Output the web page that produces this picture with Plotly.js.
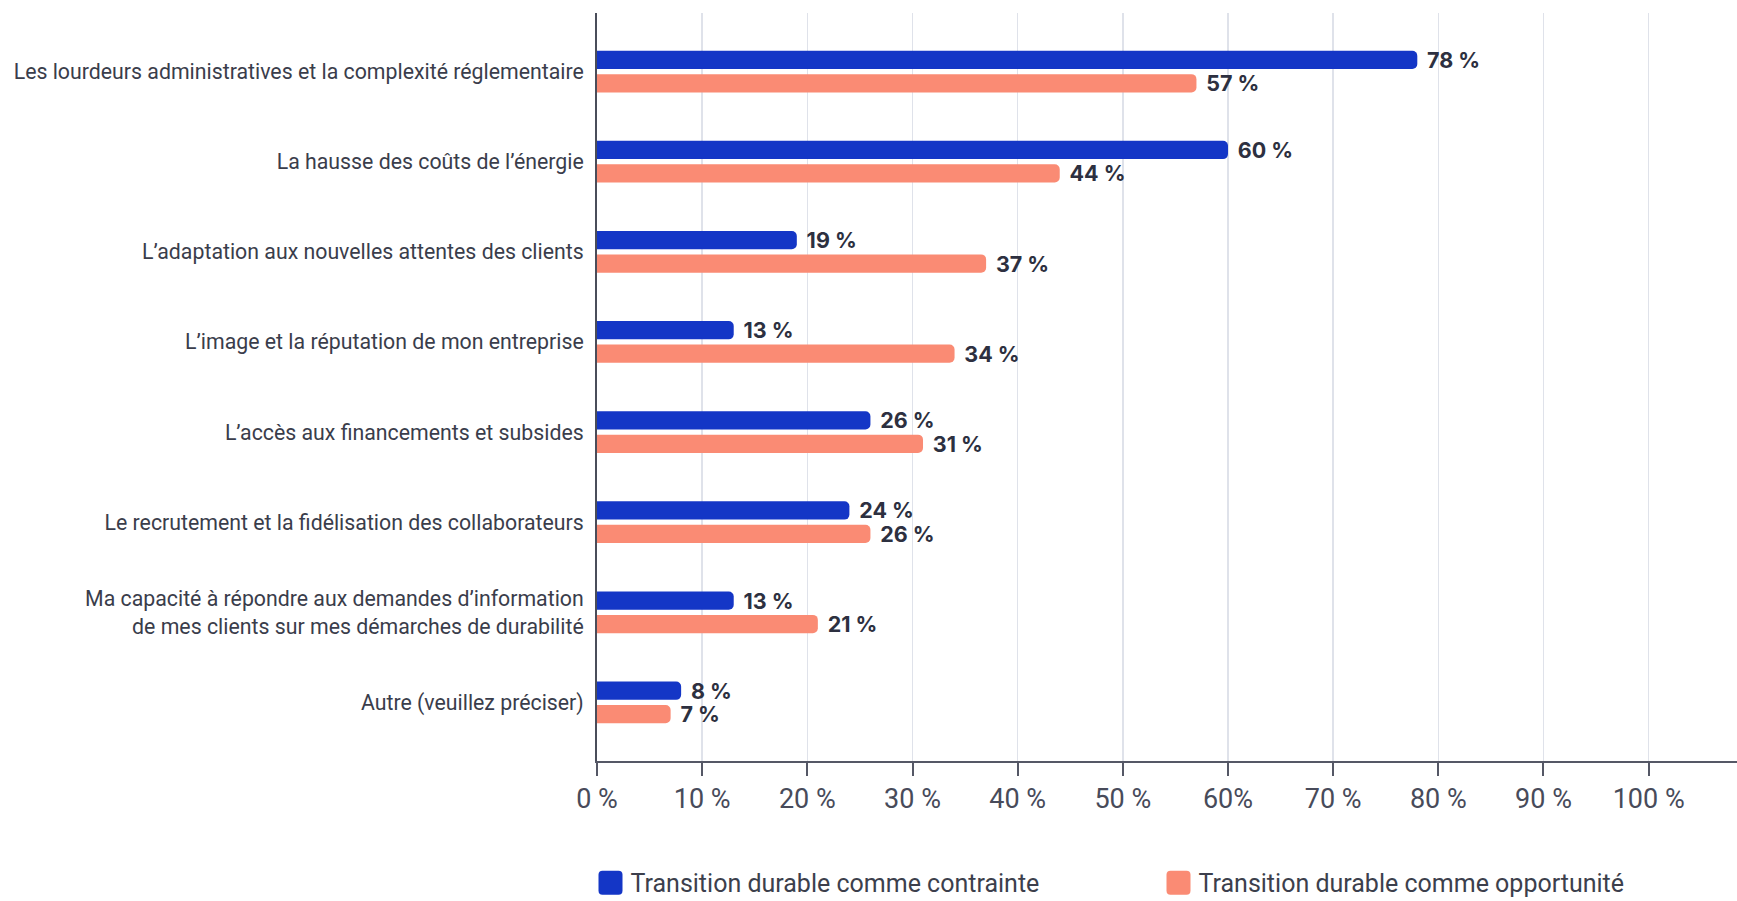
<!DOCTYPE html>
<html>
<head>
<meta charset="utf-8">
<script src="https://cdn.plot.ly/plotly-3.0.1.min.js"></script>
<style>html,body{margin:0;padding:0;background:#fff;overflow:hidden;}#chart{width:1737px;height:901px;}</style>
</head>
<body>
<div id="chart"></div>
<script>
const categories = [
  "Les lourdeurs administratives et la complexité réglementaire",
  "La hausse des coûts de l’énergie",
  "L’adaptation aux nouvelles attentes des clients",
  "L’image et la réputation de mon entreprise",
  "L’accès aux financements et subsides",
  "Le recrutement et la fidélisation des collaborateurs",
  "Ma capacité à répondre aux demandes d’information<br>de mes clients sur mes démarches de durabilité",
  "Autre (veuillez préciser)"
];
const contrainte = [78, 60, 19, 13, 26, 24, 13, 8];
const opportunite = [57, 44, 37, 34, 31, 26, 21, 7];
const seriesNames = ["Transition durable comme contrainte", "Transition durable comme opportunité"];
const tickVals = [0, 10, 20, 30, 40, 50, 60, 70, 80, 90, 100];
const tickText = ["0 %", "10 %", "20 %", "30 %", "40 %", "50 %", "60%", "70 %", "80 %", "90 %", "100 %"];

const blue = "#1436C6";
const salmon = "#FA8B74";
const labelFont = {family: "Inter, 'DejaVu Sans', sans-serif", size: 21.5, color: "#2d3040", weight: 700};

function barTrace(vals, name, color) {
  return {
    type: "bar",
    orientation: "h",
    x: vals,
    y: categories,
    name: name,
    marker: {color: color, line: {width: 0}},
    text: vals.map(v => "\u00a0\u200a" + v + "\u00a0%"),
    textposition: "outside",
    textfont: labelFont,
    constraintext: "none",
    cliponaxis: false,
    hoverinfo: "skip"
  };
}

const data = [
  barTrace(contrainte, seriesNames[0], blue),
  barTrace(opportunite, seriesNames[1], salmon)
];

const layout = {
  width: 1737,
  height: 901,
  margin: {l: 597, r: 0, t: 13, b: 140, autoexpand: false},
  paper_bgcolor: "#ffffff",
  plot_bgcolor: "#ffffff",
  barmode: "group",
  bargap: 0.48,
  bargroupgap: 0.22,
  barcornerradius: 5,
  font: {family: "Roboto, sans-serif", color: "#3c3f4c"},
  xaxis: {
    range: [0, 108.4],
    tickvals: tickVals,
    ticktext: tickText,
    tickfont: {family: "Roboto, sans-serif", size: 27, color: "#484b5a"},
    ticks: "outside",
    ticklen: 13,
    tickwidth: 2,
    tickcolor: "#555866",
    ticklabelstandoff: 0,
    showgrid: true,
    gridcolor: "#dfe2ea",
    gridwidth: 1.5,
    showline: true,
    linecolor: "#555866",
    linewidth: 2,
    zeroline: false,
    fixedrange: true
  },
  yaxis: {
    type: "category",
    range: [7.65, -0.65],
    tickfont: {family: "Roboto, sans-serif", size: 21.3, color: "#3a3d4b"},
    ticks: "",
    ticklabelstandoff: 7,
    showline: true,
    linecolor: "#4a4d5a",
    linewidth: 2,
    showgrid: false,
    zeroline: false,
    fixedrange: true
  },
  showlegend: true,
  legend: {
    orientation: "h",
    x: -0.0057,
    xanchor: "left",
    y: -0.163,
    yanchor: "middle",
    entrywidth: 523,
    entrywidthmode: "pixels",
    font: {family: "Roboto, sans-serif", size: 25, color: "#3c3f4c"},
    traceorder: "normal"
  }
};

Plotly.newPlot("chart", data, layout, {displayModeBar: false, staticPlot: true}).then(function (gd) {
  // enlarge the legend swatches to match the reference's bigger rounded squares
  gd.querySelectorAll(".legend .legendpoints path").forEach(function (p) {
    p.setAttribute("d", "M-8,-12H8Q12,-12 12,-8V8Q12,12 8,12H-8Q-12,12 -12,8V-8Q-12,-12 -8,-12Z");
  });
});
</script>
</body>
</html>
